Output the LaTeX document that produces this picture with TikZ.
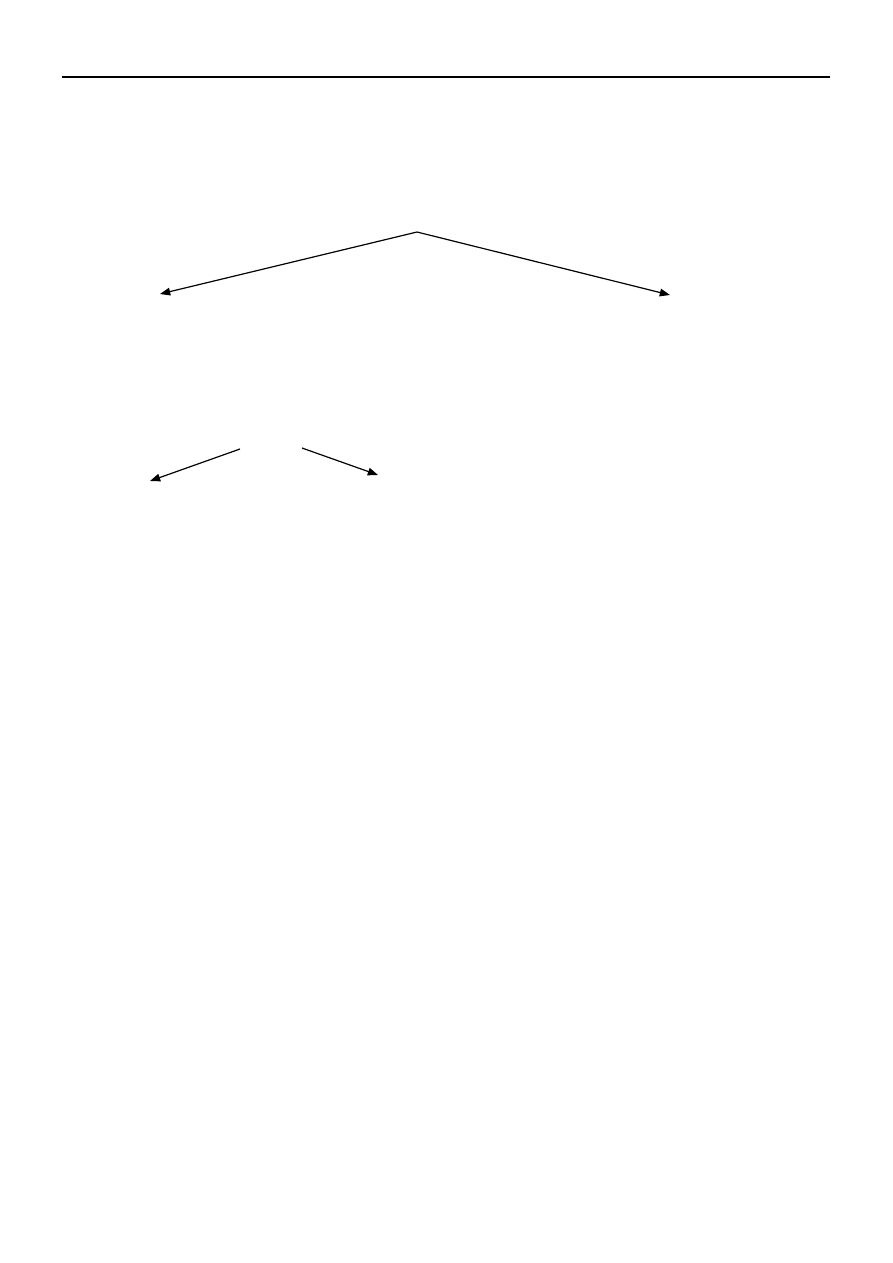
\documentclass[tikz,border=0pt]{standalone}
\usepackage{tikz}
\usetikzlibrary{arrows.meta}
\tikzstyle{arrow} = [line width=0.8pt,-{Triangle[length=2.4mm,width=1.8mm]}]
\tikzstyle{rule} = [line width=1.4pt]

\begin{document}
\begin{tikzpicture}[x=0.02352cm, y=-0.02352cm]
        \useasboundingbox (0,0) rectangle (893,1263);
        \coordinate (rl) at (62,77);
        \coordinate (rr) at (830,77);
        \coordinate (top) at (417,232);
        \coordinate (left) at (160,294);
        \coordinate (right) at (670,295);
        \coordinate (sl) at (240,449);
        \coordinate (sr) at (302,448);
        \coordinate (subleft) at (150,481);
        \coordinate (subright) at (378,475);

        \draw [rule] (rl) -- (rr);
        \draw [arrow] (top) -- (left);
        \draw [arrow] (top) -- (right);
        \draw [arrow] (sl) -- (subleft);
        \draw [arrow] (sr) -- (subright);
\end{tikzpicture}
\end{document}
